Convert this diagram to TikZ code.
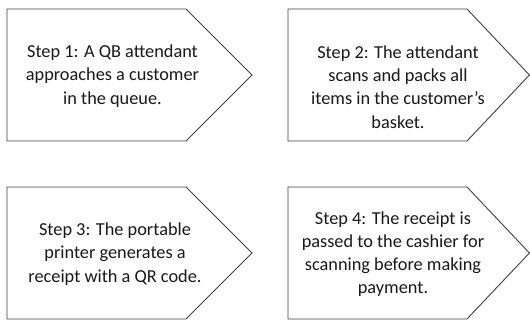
\documentclass[tikz,border=0pt]{standalone}
\usepackage{fontspec}
\setmainfont{Carlito}
\begin{document}
\begin{tikzpicture}[x=1pt,y=-1pt,
  stepshape/.style={draw=black!75, line width=0.9pt, fill=white, line join=miter},
  steptext/.style={align=center, text=black!90, inner sep=0pt,
    font=\fontsize{18.3}{23.2}\selectfont}]
\useasboundingbox (0,0) rectangle (530,320);
% pentagon arrow boxes
\draw[stepshape] (7,9) -- (186,9) -- (252,75) -- (186,141) -- (7,141) -- cycle;
\draw[stepshape] (288,9) -- (467,9) -- (529.4,75) -- (467,141) -- (288,141) -- cycle;
\draw[stepshape] (7,187) -- (186,187) -- (252,253) -- (186,319) -- (7,319) -- cycle;
\draw[stepshape] (288,187) -- (467,187) -- (529.4,253) -- (467,319) -- (288,319) -- cycle;
% step texts
\node[steptext] (s1) at (112.5,76) {Step 1: A QB attendant\\approaches a customer\\in the queue.};
\node[steptext] (s2) at (398,87) {Step 2: The attendant\\scans and packs all\\items in the customer’s\\basket.};
\node[steptext] (s3) at (115,254) {Step 3: The portable\\printer generates a\\receipt with a QR code.};
\node[steptext] (s4) at (393,254) {Step 4: The receipt is\\passed to the cashier for\\scanning before making\\payment.};
\end{tikzpicture}
\end{document}
